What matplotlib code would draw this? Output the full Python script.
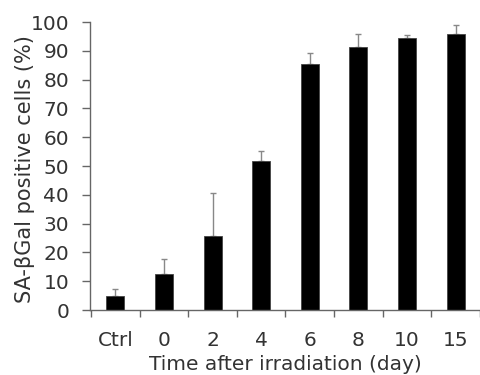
import matplotlib
matplotlib.use("Agg")
import matplotlib.pyplot as plt
import numpy as np

categories = ["Ctrl", "0", "2", "4", "6", "8", "10", "15"]
values = [4.9, 12.5, 25.7, 51.7, 85.5, 91.4, 94.5, 95.9]
errors = [2.5, 5.2, 14.8, 3.6, 3.6, 4.3, 0.9, 3.2]
yticks = [0, 10, 20, 30, 40, 50, 60, 70, 80, 90, 100]

plt.rcParams['font.family'] = ['DejaVu Sans']
fig = plt.figure(figsize=(4.8, 3.75), dpi=100)
ax = fig.add_axes([0.1875, 0.1733, 0.8125, 0.768])

x = np.arange(len(categories))
ax.bar(x, values, width=0.37, color='black', edgecolor='#444444', linewidth=0.6, zorder=2)
ax.errorbar(x, values, yerr=[np.zeros(len(errors)), errors], fmt='none',
            ecolor='#888888', elinewidth=1.0, capsize=2.5, capthick=1.0, zorder=1)

ax.set_xlim(-0.52, 7.34)
ax.set_ylim(0, 100)
ax.set_yticks(yticks)
ax.set_xticks(x)
ax.set_xticklabels(categories)
ax.set_xticks(np.arange(-0.5, len(categories), 1.0), minor=True)
ax.tick_params(axis='x', which='major', length=0, pad=15, labelsize=14.5, colors='#333333')
ax.tick_params(axis='x', which='minor', length=5, width=1, color='#666666', direction='out')
ax.tick_params(axis='y', length=6, width=1, color='#666666', pad=9, labelsize=14.5, labelcolor='#333333')

for s in ['top', 'right']:
    ax.spines[s].set_visible(False)
for s in ['left', 'bottom']:
    ax.spines[s].set_color('#666666')
    ax.spines[s].set_linewidth(1.0)

ax.set_ylabel("SA-βGal positive cells (%)", fontsize=15, color='#333333')
ax.yaxis.set_label_coords(-0.14, 0.49)
ax.set_xlabel("Time after irradiation (day)", fontsize=14.5, color='#333333', labelpad=4)

fig.savefig("out.png", dpi=100)
